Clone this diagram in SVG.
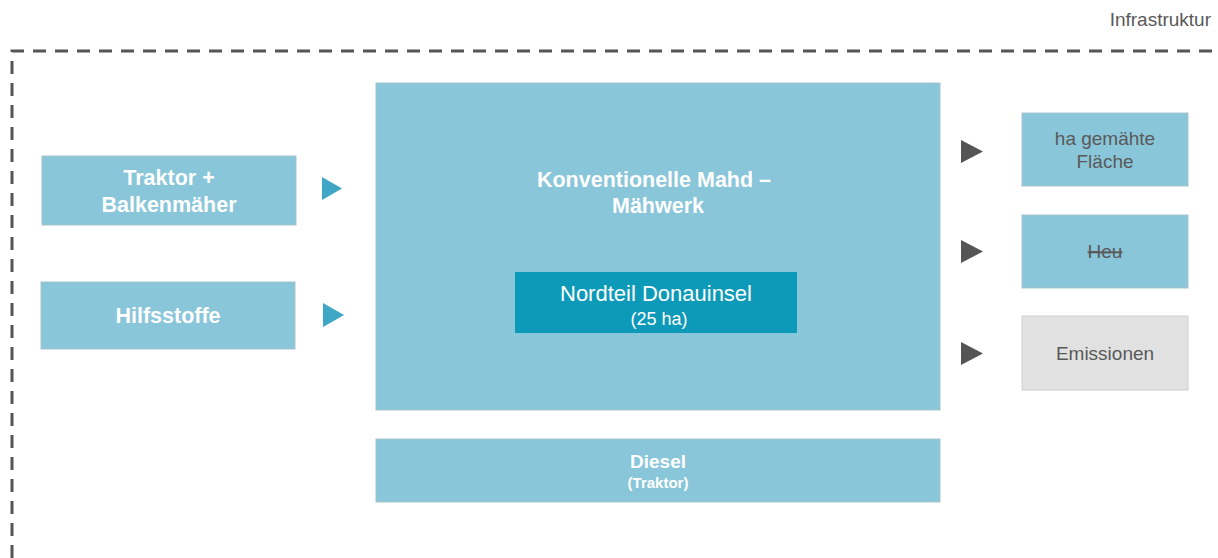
<svg xmlns="http://www.w3.org/2000/svg" width="1218" height="558" viewBox="0 0 1218 558">
<style>
.box{fill:#89c6d9;stroke:#a9c4cc;stroke-width:1}
.grey{fill:#e1e1e1;stroke:#cfcfcf;stroke-width:1}
.inner{fill:#0d9ab9}
.wb{font-family:"Liberation Sans",Arial,sans-serif;font-weight:bold;fill:#ffffff;text-anchor:middle}
.w{font-family:"Liberation Sans",Arial,sans-serif;fill:#ffffff;text-anchor:middle}
.d{font-family:"Liberation Sans",Arial,sans-serif;fill:#595959;text-anchor:middle;font-size:19px}
.ab{fill:#3fa6c6}
.ad{fill:#555555}
.frame{fill:none;stroke:#555555;stroke-width:3;stroke-dasharray:13 9}
</style>
<rect width="1218" height="558" fill="#ffffff"/>
<text x="1211" y="26" font-family="Liberation Sans, Arial, sans-serif" font-size="19" fill="#595959" text-anchor="end">Infrastruktur</text>
<path class="frame" d="M12 558 V51 H1218"/>
<g id="traktor">
<rect class="box" x="42" y="156" width="254" height="69"/>
<text class="wb" x="169" y="185" font-size="21.5">Traktor +</text>
<text class="wb" x="169" y="212" font-size="21.5">Balkenmäher</text>
</g>
<g id="hilfsstoffe">
<rect class="box" x="41" y="282" width="254" height="67"/>
<text class="wb" x="168" y="323" font-size="21.5">Hilfsstoffe</text>
</g>
<g id="mahd">
<rect class="box" x="376" y="83" width="564" height="327"/>
<text class="wb" x="654" y="187" font-size="21.5">Konventionelle Mahd –</text>
<text class="wb" x="658" y="213" font-size="21.5">Mähwerk</text>
</g>
<g id="nordteil">
<rect class="inner" x="515" y="272" width="282" height="61"/>
<text class="w" x="656" y="301" font-size="22">Nordteil Donauinsel</text>
<text class="w" x="659" y="325" font-size="18">(25 ha)</text>
</g>
<g id="diesel">
<rect class="box" x="376" y="439" width="564" height="63"/>
<text class="wb" x="658" y="468" font-size="19">Diesel</text>
<text class="wb" x="658" y="488" font-size="15">(Traktor)</text>
</g>
<g id="flaeche">
<rect class="box" x="1022" y="113" width="166" height="73"/>
<text class="d" x="1105" y="145">ha gemähte</text>
<text class="d" x="1105" y="168">Fläche</text>
</g>
<g id="heu">
<rect class="box" x="1022" y="215" width="166" height="73"/>
<text class="d" x="1105" y="258" text-decoration="line-through">Heu</text>
</g>
<g id="emissionen">
<rect class="grey" x="1022" y="316" width="166" height="74"/>
<text class="d" x="1105" y="360">Emissionen</text>
</g>
<g id="connectors">
<polygon class="ab" points="322,177 342,188.5 322,200"/>
<polygon class="ab" points="323,303 344,315 323,327"/>
<polygon class="ad" points="961,140 983,151.5 961,163"/>
<polygon class="ad" points="961,240 983,251.5 961,263"/>
<polygon class="ad" points="961,342 983,353.5 961,365"/>
</g>
</svg>
